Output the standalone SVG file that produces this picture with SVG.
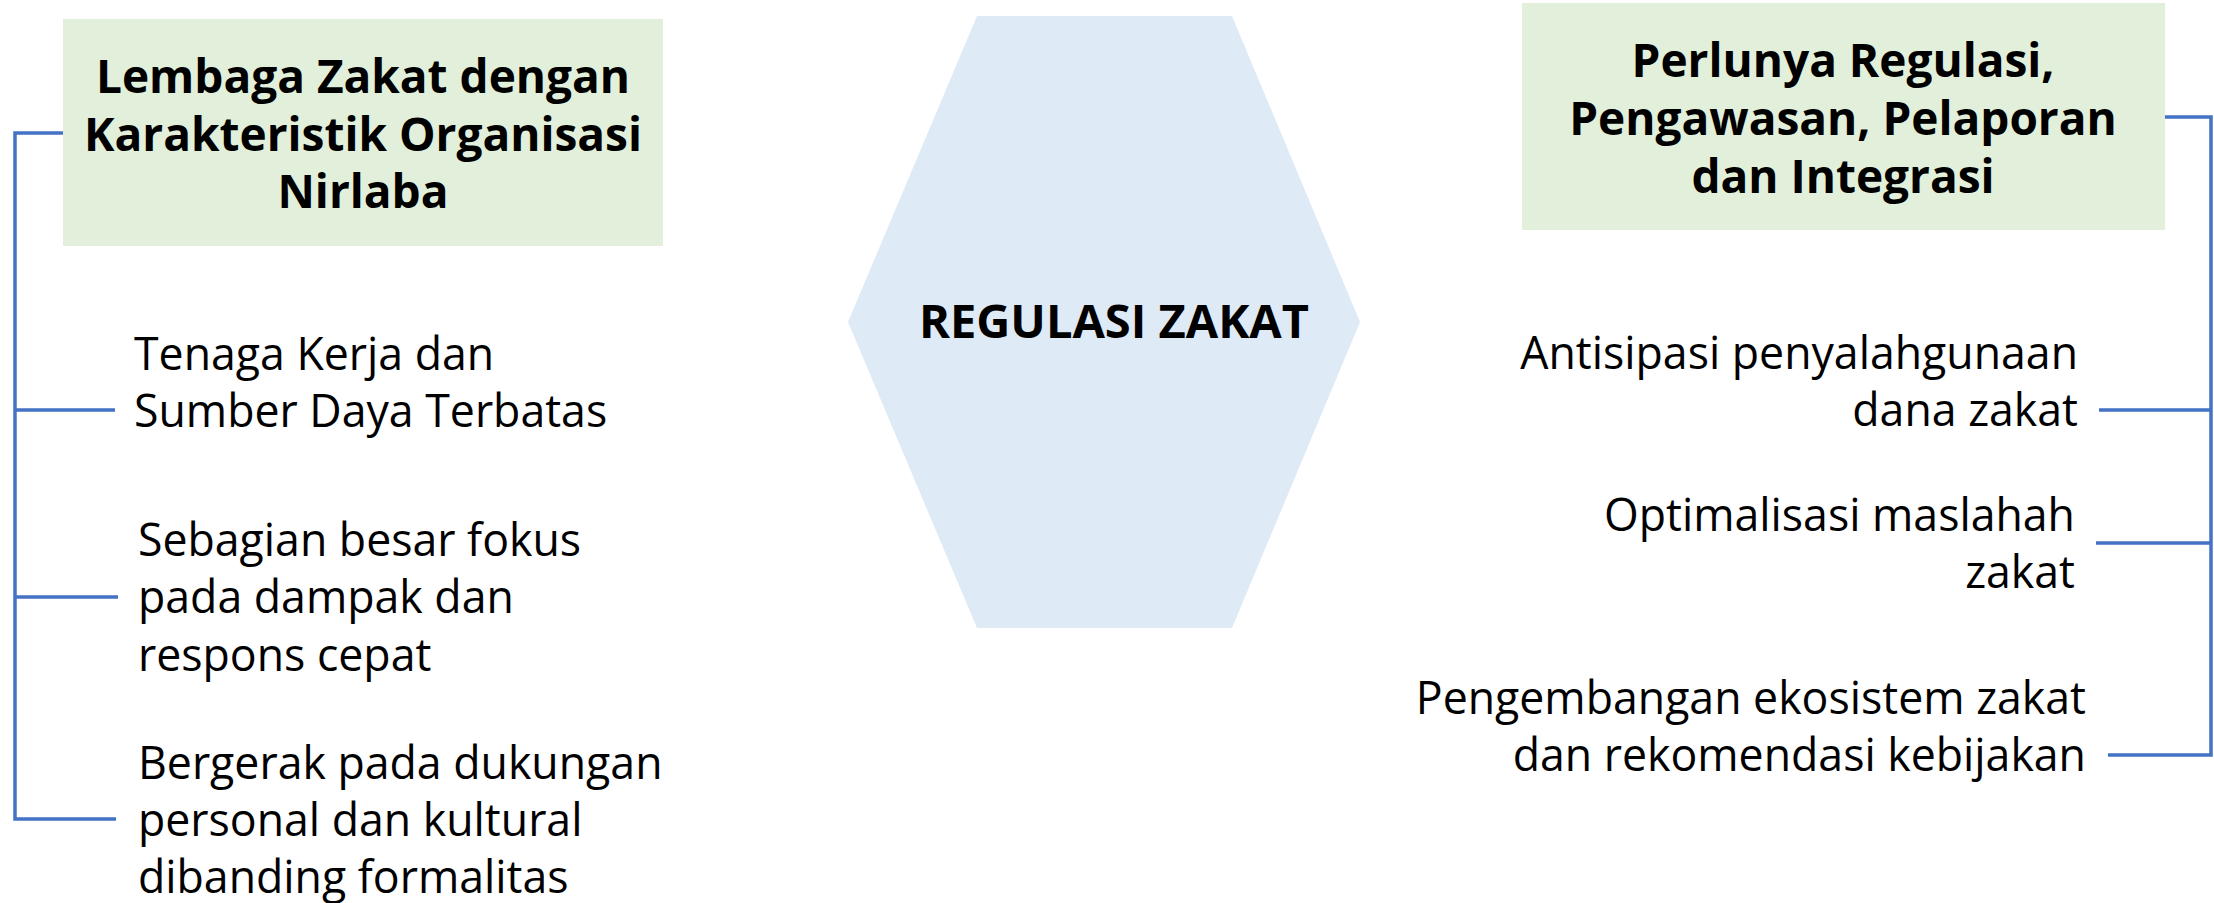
<svg xmlns="http://www.w3.org/2000/svg" width="2214" height="903" viewBox="0 0 2214 903">
<style>
.box{fill:#E2EFDA}
.hex{fill:#DEEAF6}
.title{font-family:"Open Sans","Noto Sans",sans-serif;font-weight:bold;font-size:46px;fill:#000;text-anchor:middle}
.hub{font-size:47px}
.item{font-family:"Open Sans","Noto Sans",sans-serif;font-size:46.5px;fill:#000}
.r{text-anchor:end}
.conn{fill:none;stroke:#4472C4;stroke-width:3.5}
</style>
<rect width="2214" height="903" fill="#fff"/>
<g id="connectors">
<path class="conn" d="M63,133 H15 V819 H116 M15,410 H115 M15,597 H118"/>
<path class="conn" d="M2165,117 H2211 V755 H2108 M2211,410 H2099 M2211,543 H2096"/>
</g>
<g id="hub">
<polygon class="hex" points="977,16 1232,16 1360,322 1232,628 977,628 848,322"/>
<text class="title hub" x="1114" y="338">REGULASI ZAKAT</text>
</g>
<g id="left-head">
<rect class="box" x="63" y="19" width="600" height="227"/>
<text class="title"><tspan x="363" y="93">Lembaga Zakat dengan</tspan><tspan x="363" y="151">Karakteristik Organisasi</tspan><tspan x="363" y="208">Nirlaba</tspan></text>
</g>
<g id="left-1" transform="translate(134 0) scale(0.96 1)">
<text class="item"><tspan x="0" y="370">Tenaga Kerja dan</tspan><tspan x="0" y="427">Sumber Daya Terbatas</tspan></text>
</g>
<g id="left-2" transform="translate(138 0) scale(0.96 1)">
<text class="item"><tspan x="0" y="556">Sebagian besar fokus</tspan><tspan x="0" y="613">pada dampak dan</tspan><tspan x="0" y="671">respons cepat</tspan></text>
</g>
<g id="left-3" transform="translate(138 0) scale(0.96 1)">
<text class="item"><tspan x="0" y="779">Bergerak pada dukungan</tspan><tspan x="0" y="836">personal dan kultural</tspan><tspan x="0" y="893">dibanding formalitas</tspan></text>
</g>
<g id="right-head">
<rect class="box" x="1522" y="3" width="643" height="227"/>
<text class="title"><tspan x="1843" y="77">Perlunya Regulasi,</tspan><tspan x="1843" y="135">Pengawasan, Pelaporan</tspan><tspan x="1843" y="193">dan Integrasi</tspan></text>
</g>
<g id="right-1" transform="translate(2078 0) scale(0.96 1)">
<text class="item r"><tspan x="0" y="369">Antisipasi penyalahgunaan</tspan><tspan x="0" y="426">dana zakat</tspan></text>
</g>
<g id="right-2" transform="translate(2075 0) scale(0.96 1)">
<text class="item r"><tspan x="0" y="531">Optimalisasi maslahah</tspan><tspan x="0" y="588">zakat</tspan></text>
</g>
<g id="right-3" transform="translate(2086 0) scale(0.96 1)">
<text class="item r"><tspan x="0" y="714">Pengembangan ekosistem zakat</tspan><tspan x="0" y="771">dan rekomendasi kebijakan</tspan></text>
</g>
</svg>
